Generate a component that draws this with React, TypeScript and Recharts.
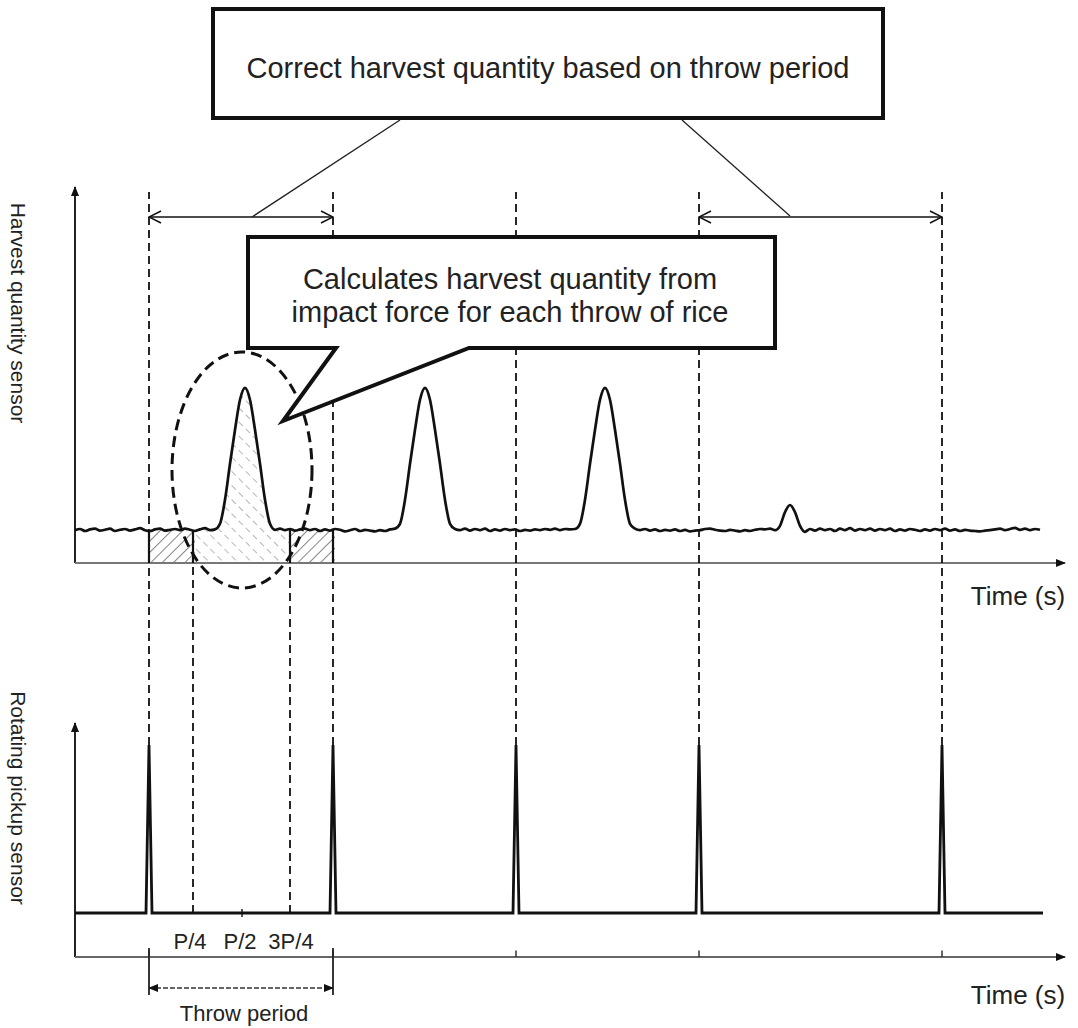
import React from "react";
import {
  ComposedChart,
  Line,
  Area,
  XAxis,
  YAxis,
  ReferenceLine,
  ReferenceDot,
} from "recharts";

const FONT = '"Liberation Sans", Arial, sans-serif';

// harvest quantity sensor, one sample every 5 time units starting at t = 0
const HARVEST_STEP = 5;
const harvestSignal = [
  8.2, 8.5, 8.0, 8.4, 8.6, 8.1, 8.3, 8.6, 8.0, 8.3,
  8.5, 8.1, 8.4, 8.7, 8.2, 8.0, 8.4, 8.6, 8.1, 8.3,
  8.5, 8.2, 8.6, 8.3, 8.0, 8.4, 8.7, 8.2, 8.4, 9.8,
  15.8, 24.8, 33.3, 40.8, 43.8, 40.8, 33.3, 24.8, 15.8, 9.8,
  8.3, 8.6, 8.2, 8.5, 8.1, 8.4, 8.6, 8.2, 8.5, 8.0,
  8.4, 8.1, 8.5, 8.3, 7.9, 8.2, 8.5, 8.0, 8.3, 8.1,
  7.9, 8.2, 8.0, 8.4, 8.6, 9.8, 15.8, 24.8, 33.3, 40.8,
  43.8, 40.8, 33.3, 24.8, 15.8, 9.8, 8.5, 8.2, 8.6, 8.1,
  8.5, 8.2, 8.6, 8.0, 8.4, 8.1, 8.5, 8.2, 8.4, 8.0,
  8.3, 8.1, 8.4, 8.2, 8.5, 8.3, 8.6, 8.2, 8.5, 8.4,
  8.5, 9.8, 15.8, 24.8, 33.3, 40.8, 43.8, 40.8, 33.3, 24.8,
  15.8, 9.8, 8.6, 8.2, 8.5, 8.1, 8.4, 8.0, 8.3, 8.1,
  8.4, 8.0, 8.3, 7.9, 8.1, 8.2, 8.5, 8.6, 8.3, 8.1,
  8.0, 8.3, 8.1, 7.9, 8.2, 8.0, 8.3, 8.5, 8.4, 8.6,
  8.2, 9.3, 12.7, 14.5, 12.7, 9.3, 7.8, 8.5, 8.1, 8.6,
  8.2, 8.5, 8.0, 8.6, 8.2, 8.7, 8.1, 8.5, 8.2, 8.6,
  8.1, 8.5, 8.2, 8.6, 8.0, 8.4, 8.1, 8.5, 8.3, 8.0,
  8.4, 8.1, 8.5, 8.2, 8.6, 8.1, 8.4, 8.0, 8.3, 8.1,
  8.0, 7.9, 8.1, 8.2, 8.4, 8.6, 8.2, 8.5, 8.8, 8.3,
  8.6, 8.2, 8.5, 8.3,
];
const HARVEST_LEVEL = 8.25;

// rotating pickup sensor pulses
const pickupTimes = [0, 71, 74, 77, 255, 258, 261, 438, 441, 444, 621, 624, 627, 864, 867, 870, 968];
const pickupSignal = [11, 11, 53, 11, 11, 53, 11, 11, 53, 11, 11, 53, 11, 11, 53, 11, 11];
const PULSE_TOP = 53;
const PICKUP_LEVEL = 11;

const throwTimes = [74, 258, 441, 624, 867];
const quarterTimes = [118, 167, 215];
const quarterLabels = ["P/4", "P/2", "3P/4"];
const correctedSpans = [
  [74, 258],
  [624, 867],
];
const hatchLeft = [75, 120];
const hatchMid = [120, 215];
const hatchRight = [215, 260];

const harvestData = harvestSignal.map((v, i) => ({ t: i * HARVEST_STEP, v }));
const pickupData = pickupTimes.map((t, i) => ({ t, v: pickupSignal[i] }));
const slice = ([a, b]: number[]) => harvestData.filter((d) => d.t >= a && d.t <= b);

const seg =
  (stroke: string, width: number, dash?: string, markerEnd?: string, markerStart?: string) =>
  (p: any) =>
    (
      <line
        x1={p.x1}
        y1={p.y1}
        x2={p.x2}
        y2={p.y2}
        stroke={stroke}
        strokeWidth={width}
        strokeDasharray={dash}
        markerEnd={markerEnd}
        markerStart={markerStart}
      />
    );

function Overlay() {
  const txt = { fontFamily: FONT, fill: "#222" };
  return (
    <svg
      width={1078}
      height={1028}
      style={{ position: "absolute", left: 0, top: 0, pointerEvents: "none" }}
    >
      <defs>
        <marker id="openArrow" viewBox="0 0 14 14" refX={13} refY={7} markerWidth={14} markerHeight={14} markerUnits="userSpaceOnUse" orient="auto-start-reverse">
          <path d="M1,1 L13,7 L1,13" fill="none" stroke="#111" strokeWidth={1.5} />
        </marker>
        <marker id="solidArrow" viewBox="0 0 10 10" refX={9} refY={5} markerWidth={10} markerHeight={10} markerUnits="userSpaceOnUse" orient="auto-start-reverse">
          <path d="M0,1 L10,5 L0,9 z" fill="#111" />
        </marker>
        <pattern id="hatchA" width={8} height={8} patternUnits="userSpaceOnUse" patternTransform="rotate(45)">
          <line x1={0} y1={0} x2={0} y2={8} stroke="#444" strokeWidth={1.3} />
        </pattern>
        <pattern id="hatchB" width={10} height={10} patternUnits="userSpaceOnUse" patternTransform="rotate(-45)">
          <line x1={0} y1={0} x2={0} y2={10} stroke="#888" strokeWidth={1.2} strokeDasharray="3 4" />
        </pattern>
      </defs>

      {/* top note */}
      <line x1={400} y1={120} x2={252} y2={217} stroke="#222" strokeWidth={1.4} />
      <line x1={682} y1={120} x2={790} y2={216} stroke="#222" strokeWidth={1.4} />
      <rect x={213} y={9} width={670} height={109} fill="#fff" stroke="#111" strokeWidth={4} />
      <text x={548} y={68} textAnchor="middle" dominantBaseline="central" fontSize={29} {...txt}>
        Correct harvest quantity based on throw period
      </text>

      {/* callout */}
      <path
        d="M248,237 L775,237 L775,348 L469,348 L283,421 L336,348 L248,348 Z"
        fill="#fff"
        stroke="#111"
        strokeWidth={4}
        strokeLinejoin="miter"
      />
      <text x={510} y={279} textAnchor="middle" dominantBaseline="central" fontSize={29} {...txt}>
        Calculates harvest quantity from
      </text>
      <text x={510} y={312} textAnchor="middle" dominantBaseline="central" fontSize={29} {...txt}>
        impact force for each throw of rice
      </text>

      {/* axis titles */}
      <text transform="translate(18,313) rotate(90)" textAnchor="middle" dominantBaseline="central" fontSize={21} {...txt}>
        Harvest quantity sensor
      </text>
      <text transform="translate(18,798) rotate(90)" textAnchor="middle" dominantBaseline="central" fontSize={21} {...txt}>
        Rotating pickup sensor
      </text>
      <text x={1018} y={596} textAnchor="middle" dominantBaseline="central" fontSize={26} {...txt}>
        Time (s)
      </text>
      <text x={1018} y={995} textAnchor="middle" dominantBaseline="central" fontSize={26} {...txt}>
        Time (s)
      </text>

      {/* quarter labels */}
      {quarterLabels.map((l, i) => (
        <text key={l} x={[190, 240, 291][i]} y={941} textAnchor="middle" dominantBaseline="central" fontSize={22} {...txt}>
          {l}
        </text>
      ))}
      <text x={244} y={1013} textAnchor="middle" dominantBaseline="central" fontSize={22} {...txt}>
        Throw period
      </text>
    </svg>
  );
}

export default function App() {
  return (
    <div style={{ position: "absolute", left: 0, top: 0, width: 1078, height: 1028, background: "#fff" }}>
      <ComposedChart
        width={1078}
        height={1028}
        margin={{ top: 185, right: 13, bottom: 0, left: 75 }}
      >
        <XAxis type="number" dataKey="t" domain={[0, 990]} hide allowDataOverflow />
        <YAxis yAxisId="h" type="number" domain={[-116.25, 94.5]} hide allowDataOverflow />
        <YAxis yAxisId="p" type="number" domain={[-17.75, 193]} hide allowDataOverflow />

        <Area yAxisId="h" data={slice(hatchLeft)} dataKey="v" type="monotone" stroke="none" fill="url(#hatchA)" fillOpacity={1} baseValue={0} isAnimationActive={false} />
        <Area yAxisId="h" data={slice(hatchMid)} dataKey="v" type="monotone" stroke="none" fill="url(#hatchB)" fillOpacity={1} baseValue={0} isAnimationActive={false} />
        <Area yAxisId="h" data={slice(hatchRight)} dataKey="v" type="monotone" stroke="none" fill="url(#hatchA)" fillOpacity={1} baseValue={0} isAnimationActive={false} />

        {/* axes */}
        <ReferenceLine yAxisId="h" segment={[{ x: 0, y: 0 }, { x: 0, y: 94 }]} shape={seg("#222", 2, undefined, "url(#solidArrow)")} />
        <ReferenceLine yAxisId="h" segment={[{ x: 0, y: 0 }, { x: 990, y: 0 }]} shape={seg("#777", 2, undefined, "url(#solidArrow)")} />
        <ReferenceLine yAxisId="p" segment={[{ x: 0, y: 0 }, { x: 0, y: 58.5 }]} shape={seg("#222", 2, undefined, "url(#solidArrow)")} />
        <ReferenceLine yAxisId="p" segment={[{ x: 0, y: 0 }, { x: 990, y: 0 }]} shape={seg("#666", 2, undefined, "url(#solidArrow)")} />

        {/* throw boundaries */}
        {throwTimes.map((t) => (
          <ReferenceLine key={"d" + t} yAxisId="p" segment={[{ x: t, y: PULSE_TOP }, { x: t, y: 191.25 }]} shape={seg("#111", 1.8, "8 5")} />
        ))}
        {[quarterTimes[0], quarterTimes[2]].map((t) => (
          <ReferenceLine key={"q" + t} yAxisId="p" segment={[{ x: t, y: PICKUP_LEVEL }, { x: t, y: 98.5 }]} shape={seg("#111", 1.8, "8 5")} />
        ))}
        {[throwTimes[0], quarterTimes[0], quarterTimes[2], throwTimes[1]].map((t) => (
          <ReferenceLine key={"e" + t} yAxisId="h" segment={[{ x: t, y: 0 }, { x: t, y: HARVEST_LEVEL }]} shape={seg("#111", 2.2)} />
        ))}
        {throwTimes.map((t) => (
          <ReferenceLine key={"k" + t} yAxisId="p" segment={[{ x: t, y: 0 }, { x: t, y: 1.6 }]} shape={seg("#333", 1.5)} />
        ))}
        <ReferenceLine yAxisId="p" segment={[{ x: quarterTimes[1], y: PICKUP_LEVEL - 1 }, { x: quarterTimes[1], y: PICKUP_LEVEL + 1 }]} shape={seg("#222", 1.5)} />

        {/* corrected spans */}
        {correctedSpans.map(([a, b]) => (
          <ReferenceLine key={"c" + a} yAxisId="h" segment={[{ x: a, y: 86.5 }, { x: b, y: 86.5 }]} shape={seg("#111", 1.5, undefined, "url(#openArrow)", "url(#openArrow)")} />
        ))}

        {/* throw period bracket */}
        {[throwTimes[0], throwTimes[1]].map((t) => (
          <ReferenceLine key={"b" + t} yAxisId="p" segment={[{ x: t, y: 2.25 }, { x: t, y: -9.5 }]} shape={seg("#222", 1.8)} />
        ))}
        <ReferenceLine yAxisId="p" segment={[{ x: throwTimes[0], y: -7.75 }, { x: throwTimes[1], y: -7.75 }]} shape={seg("#333", 1.5, "5 2", "url(#solidArrow)", "url(#solidArrow)")} />

        <ReferenceDot
          yAxisId="h"
          x={quarterTimes[1]}
          y={23.25}
          shape={(p: any) => (
            <ellipse cx={p.cx} cy={p.cy} rx={70} ry={118} fill="none" stroke="#111" strokeWidth={3} strokeDasharray="11 6" />
          )}
        />

        <Line yAxisId="h" data={harvestData} dataKey="v" type="monotone" stroke="#111" strokeWidth={2.7} dot={false} activeDot={false} isAnimationActive={false} />
        <Line yAxisId="p" data={pickupData} dataKey="v" type="linear" stroke="#111" strokeWidth={2.8} dot={false} activeDot={false} isAnimationActive={false} />
      </ComposedChart>
      <Overlay />
    </div>
  );
}
